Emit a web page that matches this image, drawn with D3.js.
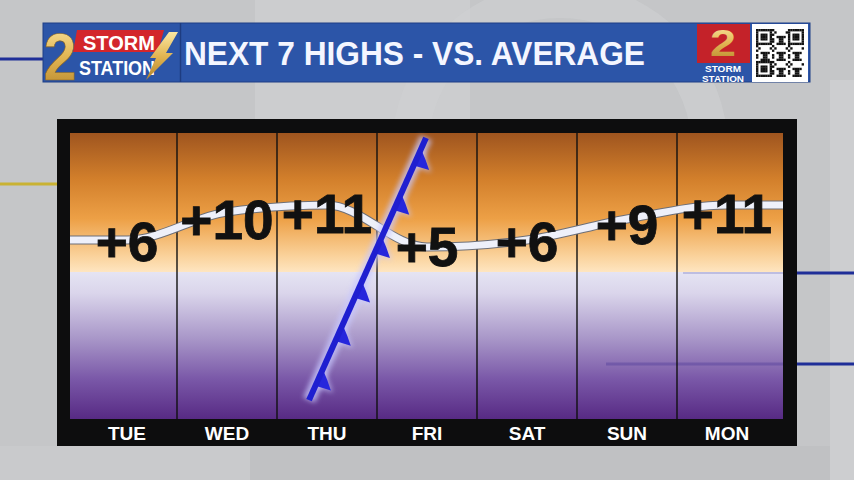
<!DOCTYPE html>
<html><head><meta charset="utf-8">
<script src="https://cdn.jsdelivr.net/npm/d3@7/dist/d3.min.js"></script>
<style>body{margin:0;background:#c6c7c9}svg{display:block}</style>
</head><body>
<svg id="c" width="854" height="480"></svg>
<script>
// ---- data ----
const days = ["TUE","WED","THU","FRI","SAT","SUN","MON"];
const departures = [6, 10, 11, 5, 6, 9, 11];          // degrees vs. average
const valueLabels = ["+6","+10","+11","+5","+6","+9","+11"];
const titleText = "NEXT 7 HIGHS - VS. AVERAGE";
// cold front annotation: continuous day position (0 = left of TUE) and value-axis position
const frontDayPos = [2.32, 3.49];
const frontValuePos = [-16.9, 20.6];
const frontBarbFractions = [0.055, 0.225, 0.39, 0.56, 0.725, 0.895];

// ---- layout ----
const W = 854, H = 480;
const frame = {x0:57, y0:119, x1:797, y1:446};
const plot = {x0:70, y0:133, x1:783, y1:419};
const svg = d3.select("#c");
const defs = svg.append("defs");
const SANS = "Liberation Sans, Arial, sans-serif";

// scales
const x = d3.scaleBand().domain(days).range([77, 777]).padding(0);
const xc = d3.scaleLinear().domain([0, 7]).range([77, 777]);
const y = d3.scaleLinear().domain([-19.6, 21.3]).range([plot.y1, plot.y0]);
const yLabel = d3.scaleLinear().domain([0, 10]).range([293.5, 238.5]);

// ---- background ----
svg.append("rect").attr("width",W).attr("height",H).attr("fill","#c5c6c8");
svg.append("rect").attr("x",255).attr("y",0).attr("width",215).attr("height",125).attr("fill","#cccdcf");
svg.append("circle").attr("cx",560).attr("cy",150).attr("r",150).attr("fill","none")
  .attr("stroke","#cfd0d2").attr("stroke-width",36).attr("opacity",0.6);
svg.append("rect").attr("x",0).attr("y",446).attr("width",250).attr("height",34).attr("fill","#c9cacc");
svg.append("rect").attr("x",250).attr("y",446).attr("width",600).attr("height",34).attr("fill","#c0c1c3");
svg.append("rect").attr("x",830).attr("y",80).attr("width",24).attr("height",400).attr("fill","#cdced0");

// decorative lines
svg.append("line").attr("x1",0).attr("x2",45).attr("y1",59).attr("y2",59).attr("stroke","#1f2e98").attr("stroke-width",3);
svg.append("line").attr("x1",0).attr("x2",57).attr("y1",184).attr("y2",184).attr("stroke","#c9b233").attr("stroke-width",3);
svg.append("line").attr("x1",797).attr("x2",854).attr("y1",273).attr("y2",273).attr("stroke","#1f2e98").attr("stroke-width",3);
svg.append("line").attr("x1",797).attr("x2",854).attr("y1",364).attr("y2",364).attr("stroke","#1f2e98").attr("stroke-width",3);

// ---- header ----
const hdr = svg.append("g");
hdr.append("rect").attr("x",43).attr("y",23).attr("width",767).attr("height",59).attr("fill","#2c55a8")
  .attr("stroke","#1f3f86").attr("stroke-width",1);
hdr.append("line").attr("x1",180.5).attr("x2",180.5).attr("y1",23).attr("y2",82).attr("stroke","#1e3c80").attr("stroke-width",1.5);

const gold = defs.append("linearGradient").attr("id","gold").attr("x1",0).attr("y1",0).attr("x2",0).attr("y2",1);
gold.append("stop").attr("offset",0).attr("stop-color","#fbe7a2");
gold.append("stop").attr("offset",0.5).attr("stop-color","#e2b552");
gold.append("stop").attr("offset",1).attr("stop-color","#b4852b");

// left logo
hdr.append("path").attr("d","M77,30 L164,30 L158,52 L73,52 Z").attr("fill","#d3262b");
hdr.append("text").attr("x",60).attr("y",80).attr("text-anchor","middle")
  .attr("font-family",SANS).attr("font-weight","bold").attr("font-size",66)
  .attr("textLength",33).attr("lengthAdjust","spacingAndGlyphs")
  .attr("fill","url(#gold)").attr("stroke","#8a6420").attr("stroke-width",0.6).text("2");
hdr.append("text").attr("x",83).attr("y",50)
  .attr("font-family",SANS).attr("font-weight","bold").attr("font-size",21)
  .attr("textLength",72).attr("lengthAdjust","spacingAndGlyphs")
  .attr("fill","#fff").text("STORM");
hdr.append("text").attr("x",79).attr("y",75)
  .attr("font-family",SANS).attr("font-weight","bold").attr("font-size",21)
  .attr("textLength",76).attr("lengthAdjust","spacingAndGlyphs")
  .attr("fill","#fff").text("STATION");
hdr.append("path").attr("d","M169,32 L178,32 L166,53 L173,53 L146,80 L156,58 L150,58 Z").attr("fill","url(#gold)");

// title
hdr.append("text").attr("x",184).attr("y",65)
  .attr("font-family",SANS).attr("font-weight","bold").attr("font-size",34)
  .attr("textLength",461).attr("lengthAdjust","spacingAndGlyphs")
  .attr("fill","#f4f6ff").text(titleText);

// right logo
hdr.append("rect").attr("x",697).attr("y",24).attr("width",53).attr("height",39).attr("fill","#c42229");
hdr.append("text").attr("x",723).attr("y",56).attr("text-anchor","middle")
  .attr("font-family",SANS).attr("font-weight","bold").attr("font-size",36)
  .attr("textLength",26).attr("lengthAdjust","spacingAndGlyphs")
  .attr("fill","url(#gold)").text("2");
hdr.append("text").attr("x",723).attr("y",71.5).attr("text-anchor","middle")
  .attr("font-family",SANS).attr("font-weight","bold").attr("font-size",9)
  .attr("textLength",36).attr("lengthAdjust","spacingAndGlyphs")
  .attr("fill","#fff").text("STORM");
hdr.append("text").attr("x",723).attr("y",81.5).attr("text-anchor","middle")
  .attr("font-family",SANS).attr("font-weight","bold").attr("font-size",9)
  .attr("textLength",42).attr("lengthAdjust","spacingAndGlyphs")
  .attr("fill","#fff").text("STATION");

// QR-like box
hdr.append("rect").attr("x",752).attr("y",24).attr("width",56).attr("height",58).attr("fill","#ffffff");
const qr = hdr.append("g").attr("transform","translate(756,29)");
const N = 21, m = 2.28;
function finder(i,j,ox,oy){const a=i-ox,b=j-oy; if(a<0||b<0||a>6||b>6) return null;
  if(a===0||b===0||a===6||b===6) return true; if(a>=2&&a<=4&&b>=2&&b<=4) return true; return false;}
for(let i=0;i<N;i++) for(let j=0;j<N;j++){
  let f = finder(i,j,0,0); if(f===null) f = finder(i,j,14,0); if(f===null) f = finder(i,j,0,14);
  let on = f!==null ? f : (((i*i*3 + j*5 + i*j*7 + j*j) % 7) < 3);
  if(on) qr.append("rect").attr("x",i*m).attr("y",j*m).attr("width",m+0.1).attr("height",m+0.1).attr("fill","#111");
}

// ---- chart frame ----
svg.append("rect").attr("x",frame.x0).attr("y",frame.y0).attr("width",frame.x1-frame.x0).attr("height",frame.y1-frame.y0).attr("fill","#0d0d0e");

const bg = defs.append("linearGradient").attr("id","bg").attr("gradientUnits","userSpaceOnUse")
  .attr("x1",0).attr("y1",plot.y0).attr("x2",0).attr("y2",plot.y1);
[[0,"#9f551f"],[0.16,"#d27f2b"],[0.30,"#eda046"],[0.43,"#fad29b"],[0.485,"#fee5c0"],
 [0.487,"#e5e4f3"],[0.56,"#dad5eb"],[0.72,"#a896c8"],[0.86,"#7a58a8"],[1,"#572a84"]]
 .forEach(([o,c])=>bg.append("stop").attr("offset",o).attr("stop-color",c));
svg.append("rect").attr("x",plot.x0).attr("y",plot.y0).attr("width",plot.x1-plot.x0).attr("height",plot.y1-plot.y0).attr("fill","url(#bg)");

// faint lines showing through
svg.append("line").attr("x1",683).attr("x2",plot.x1).attr("y1",273).attr("y2",273).attr("stroke","#4b4fb0").attr("stroke-width",2).attr("opacity",0.25);
svg.append("line").attr("x1",606).attr("x2",plot.x1).attr("y1",364).attr("y2",364).attr("stroke","#3a2a90").attr("stroke-width",3).attr("opacity",0.3);

// column dividers
svg.append("g").selectAll("line").data(days.slice(0,-1)).join("line")
  .attr("x1",d=>x(d)+x.step()).attr("x2",d=>x(d)+x.step())
  .attr("y1",plot.y0).attr("y2",plot.y1).attr("stroke","#111").attr("stroke-width",1.4);

// departure line
const pts = [{px:plot.x0, v:departures[0]}]
  .concat(days.map((d,i)=>({px:x(d)+x.bandwidth()/2, v:departures[i]})))
  .concat([{px:plot.x1, v:departures[departures.length-1]}]);
const line = d3.line().x(d=>d.px).y(d=>y(d.v)).curve(d3.curveMonotoneX);
svg.append("path").attr("d",line(pts)).attr("fill","none").attr("stroke","#6d6f78").attr("stroke-width",9);
svg.append("path").attr("d",line(pts)).attr("fill","none").attr("stroke","#eef0fa").attr("stroke-width",7);

// value labels
svg.append("g").selectAll("text").data(days).join("text")
  .attr("x",d=>x(d)+x.bandwidth()/2).attr("y",(d,i)=>yLabel(departures[i]))
  .attr("text-anchor","middle")
  .attr("font-family",SANS).attr("font-weight","bold").attr("font-size",55)
  .attr("fill","#111").attr("stroke","#111").attr("stroke-width",0.8).text((d,i)=>valueLabels[i]);

// cold front
const glow = defs.append("filter").attr("id","glow").attr("x","-30%").attr("y","-20%").attr("width","160%").attr("height","140%");
glow.append("feGaussianBlur").attr("stdDeviation",2.5);
const fx0 = xc(frontDayPos[0]), fy0 = y(frontValuePos[0]);
const fx1 = xc(frontDayPos[1]), fy1 = y(frontValuePos[1]);
const len = Math.hypot(fx1-fx0, fy1-fy0);
const ux = (fx1-fx0)/len, uy = (fy1-fy0)/len;   // along front (upward)
const nx = -uy, ny = ux;
const perpR = nx > 0 ? [nx,ny] : [-nx,-ny];       // pointing right
const front = svg.append("g");
front.append("line").attr("x1",fx0).attr("y1",fy0).attr("x2",fx1).attr("y2",fy1)
  .attr("stroke","#c8c8ff").attr("stroke-width",13).attr("opacity",0.75).attr("filter","url(#glow)");
const barbPath = frontBarbFractions.map(t=>{
  const ax = fx0 + ux*len*t, ay = fy0 + uy*len*t;
  const bx = ax + ux*18, by = ay + uy*18;
  const cx = ax + perpR[0]*16 + ux*2, cy = ay + perpR[1]*16 + uy*2;
  const qx = ax + ux*10 + perpR[0]*9, qy = ay + uy*10 + perpR[1]*9;
  return `M${ax},${ay} L${bx},${by} Q${qx},${qy} ${cx},${cy} Z`;
}).join(" ");
front.append("path").attr("d",barbPath).attr("fill","#c8c8ff").attr("stroke","#c8c8ff").attr("stroke-width",3).attr("opacity",0.6).attr("filter","url(#glow)");
front.append("path").attr("d",barbPath).attr("fill","#2626dc");
front.append("line").attr("x1",fx0).attr("y1",fy0).attr("x2",fx1).attr("y2",fy1)
  .attr("stroke","#1f1fd0").attr("stroke-width",6);

// x axis labels
const ax = svg.append("g").attr("transform",`translate(0,${plot.y1})`)
  .call(d3.axisBottom(x).tickSize(0).tickPadding(8));
ax.select(".domain").remove();
ax.selectAll("text").attr("font-family",SANS)
  .attr("font-weight","bold").attr("font-size",19).attr("fill","#ffffff");
</script>
</body></html>
